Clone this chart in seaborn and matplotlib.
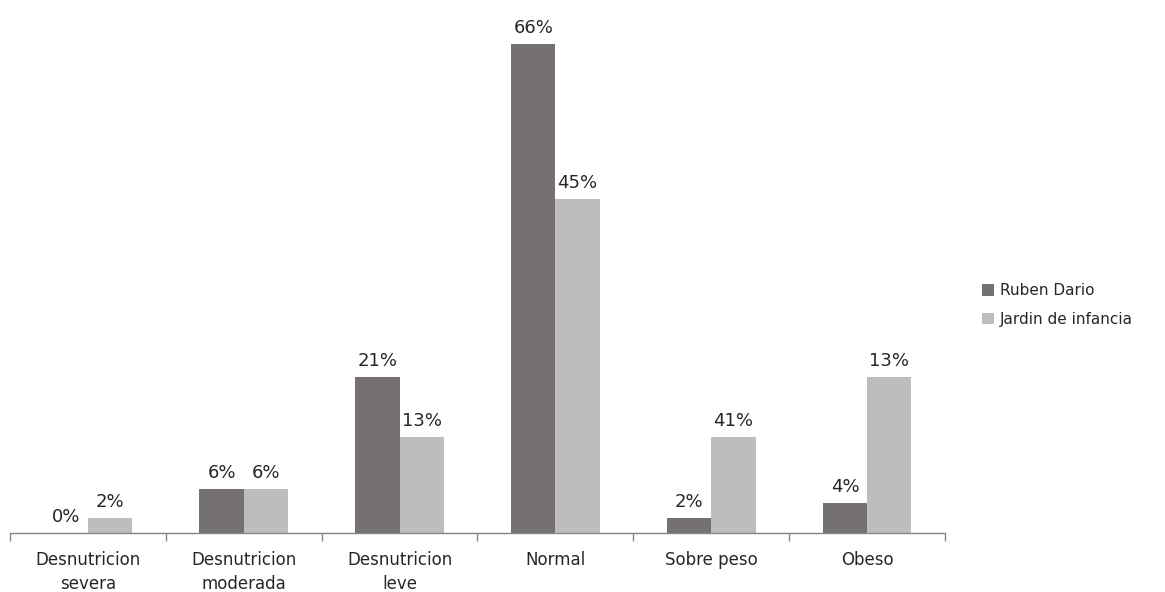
import numpy as np
import pandas as pd
import matplotlib
matplotlib.use("Agg")
import matplotlib.pyplot as plt
import seaborn as sns
from matplotlib.ticker import FixedLocator

categories = ["Desnutricion\nsevera", "Desnutricion\nmoderada", "Desnutricion\nleve",
              "Normal", "Sobre peso", "Obeso"]
series_names = ["Ruben Dario", "Jardin de infancia"]
ruben_values = [0, 6, 21, 66, 2, 4]
jardin_values = [2, 6, 13, 45, 13, 21]
ruben_labels = ["0%", "6%", "21%", "66%", "2%", "4%"]
jardin_labels = ["2%", "6%", "13%", "45%", "41%", "13%"]
colors = ["#767171", "#BDBDBD"]

sns.set_theme(style="white")
plt.rcParams['font.family'] = ['DejaVu Sans']

df = pd.DataFrame({
    "categoria": categories * 2,
    "serie": [series_names[0]] * len(categories) + [series_names[1]] * len(categories),
    "valor": ruben_values + jardin_values,
})

fig = plt.figure(figsize=(11.65, 5.92), dpi=100)
ax = fig.add_axes([10 / 1165, 1 - 533 / 592, (945 - 10) / 1165, (533 - 14) / 592])

sns.barplot(data=df, x="categoria", y="valor", hue="serie", palette=colors,
            width=0.57, saturation=1, ax=ax, legend=True, linewidth=0, edgecolor="none")

ax.set_xlim(-0.5, len(categories) - 0.5)
ax.set_ylim(0, 70)
ax.set_xlabel("")
ax.set_ylabel("")
ax.set_yticks([])
for s in ["left", "right", "top"]:
    ax.spines[s].set_visible(False)
ax.spines["bottom"].set_color("#868686")
ax.spines["bottom"].set_linewidth(1)

ax.tick_params(axis="x", which="major", length=0, labelsize=12, colors="#262626", pad=13)
for t in ax.get_xticklabels():
    t.set_linespacing(1.45)
ax.xaxis.set_minor_locator(FixedLocator(np.arange(-0.5, len(categories), 1.0)))
ax.tick_params(axis="x", which="minor", bottom=True, length=6, width=1,
               color="#868686", direction="out")

for cont, labs in zip(ax.containers, [ruben_labels, jardin_labels]):
    ax.bar_label(cont, labels=labs, padding=5, fontsize=13, color="#262626")

handles, labels = ax.get_legend_handles_labels()
ax.get_legend().remove()
fig.legend(handles, labels, loc="center left", bbox_to_anchor=(968 / 1165, 1 - 305 / 592),
           frameon=False, fontsize=11, handlelength=0.8, handleheight=0.8,
           handletextpad=0.4, labelspacing=0.9, labelcolor="#262626")

fig.savefig("out.png", dpi=100)
